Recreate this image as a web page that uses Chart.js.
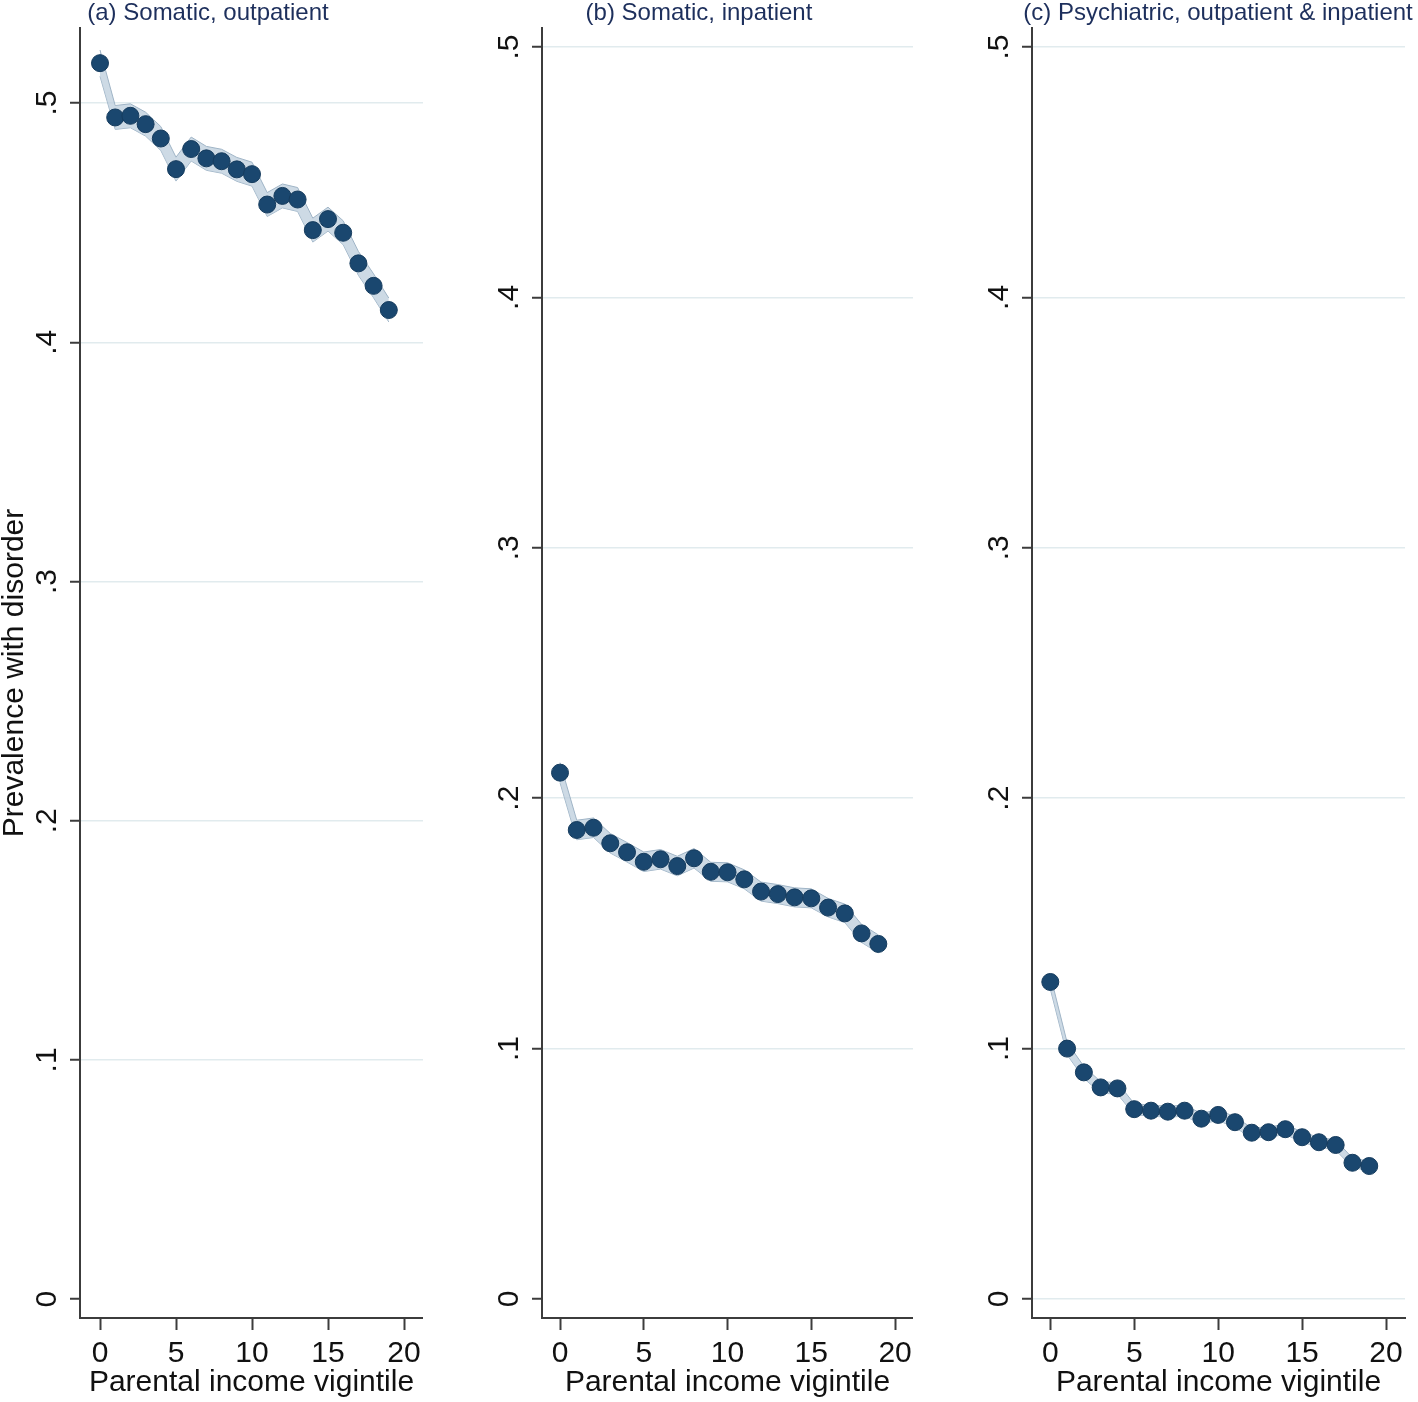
<!DOCTYPE html>
<html><head><meta charset="utf-8">
<script src="https://cdn.jsdelivr.net/npm/chart.js@4.4.1/dist/chart.umd.min.js"></script>
<style>
html,body{margin:0;padding:0;background:#fff;overflow:hidden;width:1418px;height:1402px;position:relative;}
canvas{position:absolute;top:0;}
</style></head><body>
<canvas id="cA" width="423" height="1402" style="left:0px"></canvas>
<canvas id="cB" width="433" height="1402" style="left:480px"></canvas>
<canvas id="cC" width="448" height="1402" style="left:970px"></canvas>
<script>
// ---- data ----
const vigintile = [0,1,2,3,4,5,6,7,8,9,10,11,12,13,14,15,16,17,18,19];
const xTickValues = [0,5,10,15,20];
const xTickLabels = ['0','5','10','15','20'];
const yTickValues = [0,0.1,0.2,0.3,0.4,0.5];
const yTickLabels = ['0','.1','.2','.3','.4','.5'];
const titleA = '(a) Somatic, outpatient';
const titleB = '(b) Somatic, inpatient';
const titleC = '(c) Psychiatric, outpatient & inpatient';
const xAxisTitle = 'Parental income vigintile';
const yAxisTitle = 'Prevalence with disorder';

const somaticOut = [0.5167,0.4940,0.4947,0.4912,0.4852,0.4724,0.4808,0.4769,0.4757,0.4723,0.4703,0.4576,0.4612,0.4597,0.4469,0.4515,0.4458,0.4330,0.4236,0.4135];
const somaticOutLo = [0.5112,0.4890,0.4897,0.4862,0.4802,0.4674,0.4758,0.4719,0.4707,0.4673,0.4653,0.4526,0.4562,0.4547,0.4419,0.4465,0.4408,0.4280,0.4186,0.4085];
const somaticOutHi = [0.5222,0.4990,0.4997,0.4962,0.4902,0.4774,0.4858,0.4819,0.4807,0.4773,0.4753,0.4626,0.4662,0.4647,0.4519,0.4565,0.4508,0.4380,0.4286,0.4185];

const somaticIn = [0.2102,0.1873,0.1882,0.1820,0.1784,0.1746,0.1756,0.1729,0.1760,0.1706,0.1704,0.1676,0.1627,0.1617,0.1604,0.1600,0.1563,0.1540,0.1460,0.1418];
const somaticInLo = [0.2062,0.1834,0.1843,0.1781,0.1745,0.1707,0.1717,0.1690,0.1721,0.1668,0.1666,0.1638,0.1589,0.1579,0.1566,0.1562,0.1526,0.1503,0.1424,0.1382];
const somaticInHi = [0.2142,0.1912,0.1921,0.1859,0.1823,0.1785,0.1795,0.1768,0.1799,0.1744,0.1742,0.1714,0.1665,0.1655,0.1642,0.1638,0.1600,0.1577,0.1496,0.1454];

const psych = [0.1266,0.1000,0.0905,0.0845,0.0841,0.0758,0.0752,0.0748,0.0752,0.0720,0.0735,0.0706,0.0664,0.0666,0.0678,0.0646,0.0626,0.0615,0.0544,0.0531];
const psychLo = [0.1238,0.0975,0.0881,0.0822,0.0818,0.0736,0.0730,0.0726,0.0730,0.0699,0.0713,0.0685,0.0644,0.0646,0.0657,0.0626,0.0606,0.0595,0.0525,0.0512];
const psychHi = [0.1294,0.1025,0.0929,0.0868,0.0864,0.0780,0.0774,0.0770,0.0774,0.0741,0.0757,0.0727,0.0684,0.0686,0.0699,0.0666,0.0646,0.0635,0.0563,0.0550];

// ---- styling ----
Chart.defaults.font.family = '"Liberation Sans", Arial, sans-serif';
const FONT = '"Liberation Sans", Arial, sans-serif';
const markerColor = '#1a476f';
const bandFill = 'rgba(188,205,220,0.75)';
const bandLine = '#9fb4c6';
const axisColor = '#3c3c3c';
const gridColor = '#e1ebee';
const textColor = '#111111';
const titleColor = '#1d2f5c';

const panelTitlePlugin = {
  id: 'panelTitle',
  afterDraw(chart, args, opts) {
    const ctx = chart.ctx;
    ctx.save();
    ctx.font = '24px ' + FONT;
    ctx.fillStyle = opts.color;
    ctx.textAlign = 'center';
    ctx.textBaseline = 'alphabetic';
    ctx.fillText(opts.text, opts.x, opts.y);
    ctx.restore();
  }
};

function pts(arr){ return vigintile.map((x,i)=>({x:x, y:arr[i]})); }

function makePanel(id, cfg){
  const datasets = [
    { data: pts(cfg.values), showLine:false, pointRadius:8.5, pointHoverRadius:8.5,
      pointBackgroundColor: markerColor, pointBorderColor:'#163c5e', pointBorderWidth:1 },
    { data: pts(cfg.hi), showLine:true, pointRadius:0, borderColor: bandLine, borderWidth:1,
      backgroundColor: bandFill, fill:'+1', tension:0 },
    { data: pts(cfg.lo), showLine:true, pointRadius:0, borderColor: bandLine, borderWidth:1,
      fill:false, tension:0 }
  ];
  return new Chart(document.getElementById(id), {
    type:'scatter',
    data:{ datasets },
    plugins:[panelTitlePlugin],
    options:{
      responsive:false, animation:false, events:[],
      layout:{ autoPadding:false, padding:{ top:28, left:0, right:cfg.padRight||0, bottom:0 } },
      plugins:{
        legend:{display:false}, tooltip:{enabled:false},
        panelTitle:{ text:cfg.title, x:cfg.titleX, y:20, color:titleColor }
      },
      scales:{
        x:{
          type:'linear', position:'bottom', min:cfg.xMin, max:cfg.xMax,
          afterBuildTicks: s => { s.ticks = xTickValues.map(v=>({value:v})); },
          afterFit: s => { s.height = 84; s.paddingLeft = 0; s.paddingRight = 0; },
          ticks:{ autoSkip:false, maxRotation:0, minRotation:0, padding:6,
            callback:(v,i)=>xTickLabels[i], font:{size:30}, color:textColor },
          grid:{ drawOnChartArea:false, drawTicks:true, tickLength:12, tickWidth:2, tickColor:axisColor },
          border:{ display:true, color:axisColor, width:2 },
          title:{ display:true, text:xAxisTitle, color:textColor, font:{size:30, lineHeight:1}, padding:{top:0,bottom:4} }
        },
        y:{
          type:'linear', position:'left', min:cfg.yMin, max:cfg.yMax,
          afterBuildTicks: s => { s.ticks = yTickValues.map(v=>({value:v})); },
          afterFit: s => { s.width = cfg.yWidth; s.paddingTop = 0; s.paddingBottom = 0; },
          ticks:{ autoSkip:false, minRotation:90, maxRotation:90, crossAlign:'center', padding:10,
            callback:(v,i)=>yTickLabels[i], font:{size:30}, color:textColor },
          grid:{
            color: c => (c.tick && c.tick.value === 0 && !cfg.zeroGrid) ? 'rgba(0,0,0,0)' : gridColor,
            lineWidth:1.5, drawTicks:true, tickLength:10, tickWidth:2, tickColor:axisColor
          },
          border:{ display:true, color:axisColor, width:2 },
          title:{ display:!!cfg.yTitle, text:yAxisTitle, color:textColor, font:{size:30, lineHeight:1}, padding:{top:0,bottom:0} }
        }
      }
    }
  });
}

makePanel('cA', { title:titleA, titleX:208, values:somaticOut, lo:somaticOutLo, hi:somaticOutHi,
  xMin:-1.316, xMax:21.25, yMin:-0.0079, yMax:0.5314, yWidth:80, yTitle:true, zeroGrid:false });
makePanel('cB', { title:titleB, titleX:219, values:somaticIn, lo:somaticInLo, hi:somaticInHi,
  xMin:-1.075, xMax:21.07, yMin:-0.0076, yMax:0.5076, yWidth:62, yTitle:false, zeroGrid:false });
makePanel('cC', { title:titleC, titleX:248, values:psych, lo:psychLo, hi:psychHi, padRight:13,
  xMin:-1.09, xMax:21.13, yMin:-0.0076, yMax:0.5076, yWidth:62, yTitle:false, zeroGrid:true });
</script>
</body></html>
